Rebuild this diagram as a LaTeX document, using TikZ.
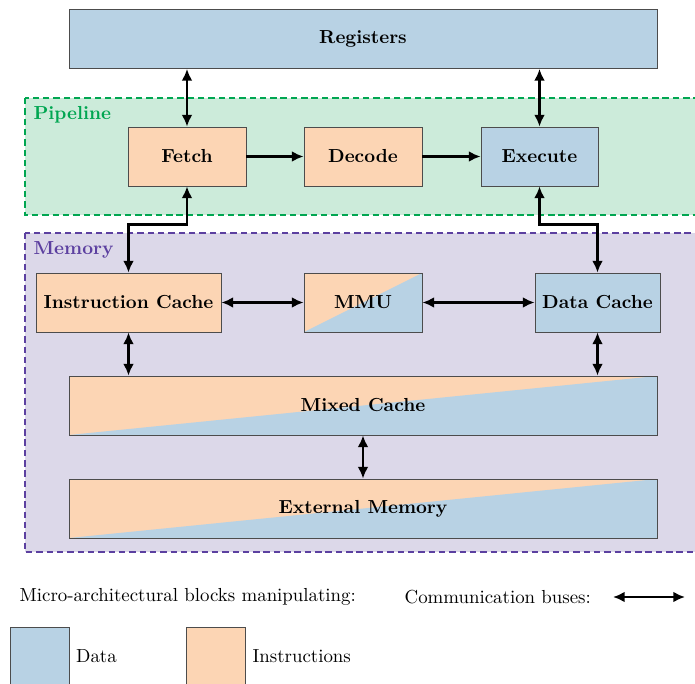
\documentclass[tikz,border=0pt]{standalone}
\usepackage{tikz}
\usetikzlibrary{arrows.meta}

\definecolor{datablue}{RGB}{184,210,228}
\definecolor{instrorange}{RGB}{252,213,180}
\definecolor{pipegreen}{RGB}{0,166,81}
\definecolor{pipefill}{RGB}{204,235,218}
\definecolor{mempurple}{RGB}{92,64,160}
\definecolor{memfill}{RGB}{220,216,233}

\def\px{0.5618pt}

\tikzset{
  block/.style={draw=black!70, line width=0.5pt, inner sep=0pt, font=\bfseries, minimum height=59*\px},
  datablk/.style={block, fill=datablue},
  instrblk/.style={block, fill=instrorange},
  mixblk/.style={block, fill=instrorange, path picture={%
      \fill[datablue] (path picture bounding box.south west) -- (path picture bounding box.south east)
                      -- (path picture bounding box.north east) -- cycle;}},
  bus/.style={line width=1.5pt, {Latex[length=6.5pt,width=6pt]}-{Latex[length=6.5pt,width=6pt]}},
  link/.style={line width=1.5pt, -{Latex[length=6.5pt,width=6pt]}},
  frame/.style={line width=1.5pt, dash pattern=on 3.6pt off 2.2pt},
}

\begin{document}
\fontsize{10.6}{13}\selectfont
\begin{tikzpicture}[x=\px, y=-\px]
        \useasboundingbox (0,0) rectangle (695,684);
        \draw [frame, draw=pipegreen, fill=pipefill] (25,98) rectangle (710,215);    %Pipeline
        \node [anchor=north west, text=pipegreen, font=\bfseries] (pipelbl) at (27,100) {Pipeline};
        \draw [frame, draw=mempurple, fill=memfill]  (25,233) rectangle (710,552);   %Memory
        \node [anchor=north west, text=mempurple, font=\bfseries] (memlbl) at (27,235) {Memory};
        \node [datablk, minimum width=588*\px]  (regs)    at (363,39)     {Registers};
        \node [instrblk, minimum width=118*\px] (fetch)   at (187,156.5)  {Fetch};
        \node [instrblk, minimum width=118*\px] (decode)  at (363,156.5)  {Decode};
        \node [datablk, minimum width=117*\px]  (execute) at (539.5,156.5){Execute};
        \node [instrblk, minimum width=185*\px] (icache)  at (128.5,302.5){Instruction Cache};
        \node [mixblk, minimum width=118*\px]   (mmu)     at (363,302.5)  {MMU};
        \node [datablk, minimum width=125*\px]  (dcache)  at (597.5,302.5){Data Cache};
        \node [mixblk, minimum width=588*\px]   (mixed)   at (363,405.5)  {Mixed Cache};
        \node [mixblk, minimum width=588*\px]   (extmem)  at (363,508.5)  {External Memory};
        \draw [bus]  (regs.south -| fetch.north) -- (fetch.north);
        \draw [bus]  (regs.south -| execute.north) -- (execute.north);
        \draw [link] (fetch) -- (decode);
        \draw [link] (decode) -- (execute);
        \draw [bus]  (fetch.south) -- ++(0,38) -| (icache.north);
        \draw [bus]  (execute.south) -- ++(0,38) -| (dcache.north);
        \draw [bus]  (icache) -- (mmu);
        \draw [bus]  (mmu) -- (dcache);
        \draw [bus]  (icache.south) -- (icache.south |- mixed.north);
        \draw [bus]  (dcache.south) -- (dcache.south |- mixed.north);
        \draw [bus]  (mixed) -- (extmem);
        %legend
        \node [anchor=west] (blkkey) at (13,597) {Micro-architectural blocks manipulating:};
        \node [anchor=west] (buskey) at (398,597) {Communication buses:};
        \coordinate (busl) at (613,597);
        \coordinate (busr) at (685,597);
        \draw [bus]  (busl) -- (busr);
        \node [block, fill=datablue, minimum width=59*\px]    (datakey)  at (39.5,656.5) {};
        \node [anchor=west] (datalbl) at (datakey.east) {Data};
        \node [block, fill=instrorange, minimum width=59*\px] (instrkey) at (216,656.5) {};
        \node [anchor=west] (instrlbl) at (instrkey.east) {Instructions};
\end{tikzpicture}
\end{document}
